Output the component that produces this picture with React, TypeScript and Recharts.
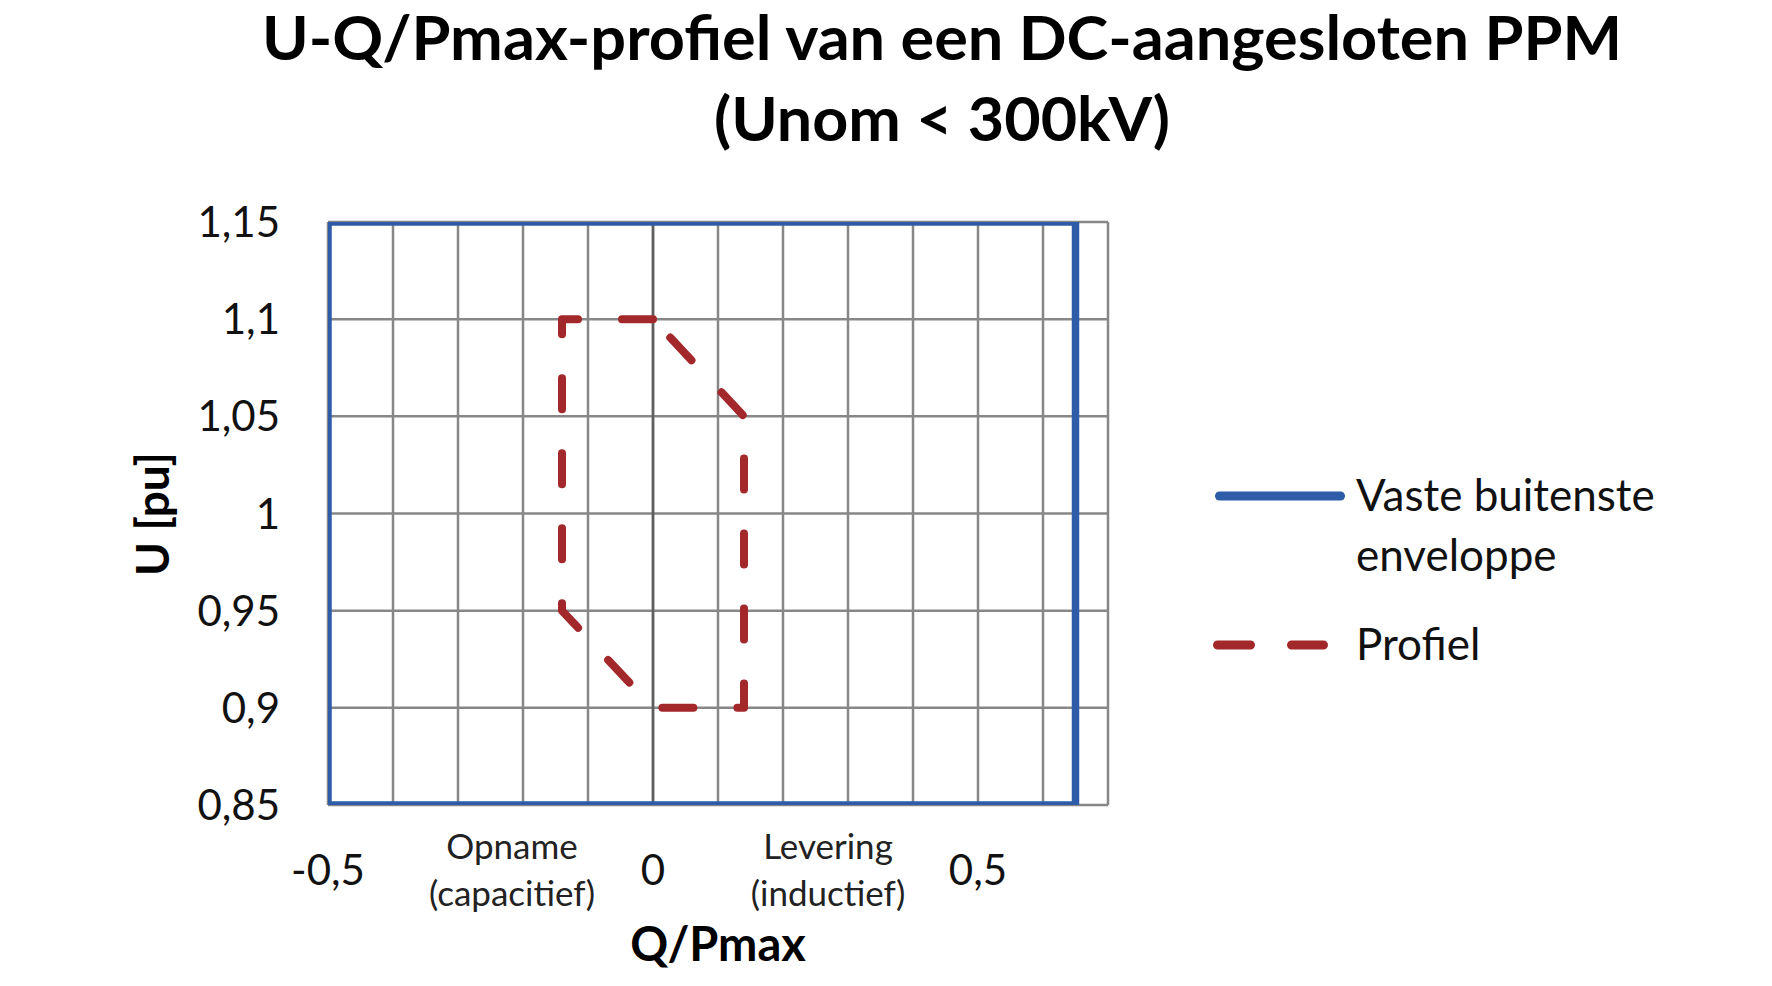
import React from "react";
import { LineChart, Line, XAxis, YAxis, CartesianGrid, ReferenceLine } from "recharts";

const TITLE_LINES = ["U-Q/Pmax-profiel van een DC-aangesloten PPM", "(Unom < 300kV)"];
const X_TICKS = [-0.5, -0.4, -0.3, -0.2, -0.1, 0, 0.1, 0.2, 0.3, 0.4, 0.5, 0.6, 0.7];
const X_TICK_LABELS = ["-0,5", "", "", "", "", "0", "", "", "", "", "0,5", "", ""];
const Y_TICKS = [0.85, 0.9, 0.95, 1.0, 1.05, 1.1, 1.15];
const Y_TICK_LABELS = ["0,85", "0,9", "0,95", "1", "1,05", "1,1", "1,15"];
const X_TITLE = "Q/Pmax";
const Y_TITLE = "U [pu]";
const NOTE_LEFT = ["Opname", "(capacitief)"];
const NOTE_RIGHT = ["Levering", "(inductief)"];

const ENV_NAME = ["Vaste buitenste", "enveloppe"];
const ENV_Q = [-0.5, -0.5, 0.65, 0.65, -0.5];
const ENV_U = [0.85, 1.15, 1.15, 0.85, 0.85];

const PROF_NAME = "Profiel";
const PROF_Q = [0, -0.14, -0.14, 0, 0.14, 0.14, 0];
const PROF_U = [1.1, 1.1, 0.95, 0.9, 0.9, 1.05, 1.1];

const envelope = ENV_Q.map((q, i) => ({ q, u: ENV_U[i] }));
const profile = PROF_Q.map((q, i) => ({ q, u: PROF_U[i] }));

const BLUE = "#2E5CA8";
const RED = "#A3282B";
const GRID = "#878787";
const FONT = "Lato, 'Open Sans', sans-serif";

const W = 1772;
const H = 986;
const PLOT_LEFT = 328;
const PLOT_RIGHT = 1108;
const PLOT_TOP = 222;
const PLOT_BOTTOM = 805;

const findIdx = (arr: number[], v: number) => arr.findIndex((a) => Math.abs(a - v) < 1e-9);

const XTick = (props: any) => {
  const { x, payload } = props;
  const i = findIdx(X_TICKS, payload.value);
  const label = i >= 0 ? X_TICK_LABELS[i] : "";
  if (!label) return null;
  return (
    <text x={x} y={PLOT_BOTTOM + 80} textAnchor="middle" fontFamily={FONT} fontSize={42} fill="#111">
      {label}
    </text>
  );
};

const YTick = (props: any) => {
  const { y, payload } = props;
  const i = findIdx(Y_TICKS, payload.value);
  const label = i >= 0 ? Y_TICK_LABELS[i] : "";
  return (
    <text x={PLOT_LEFT - 48} y={y} dy={15} textAnchor="end" fontFamily={FONT} fontSize={42} fill="#111">
      {label}
    </text>
  );
};

export default function App() {
  return (
    <div style={{ position: "absolute", left: 0, top: 0, width: W, height: H, background: "#fff" }}>
      <LineChart
        width={W}
        height={H}
        margin={{ top: PLOT_TOP, right: W - PLOT_RIGHT, bottom: H - PLOT_BOTTOM - 60, left: PLOT_LEFT - 100 }}
      >
        <CartesianGrid stroke={GRID} strokeWidth={2.5} />
        <XAxis
          type="number"
          dataKey="q"
          domain={[-0.5, 0.7]}
          ticks={X_TICKS}
          interval={0}
          height={60}
          axisLine={false}
          tickLine={false}
          tickSize={0}
          tick={<XTick />}
          allowDataOverflow
        />
        <YAxis
          type="number"
          dataKey="u"
          domain={[0.85, 1.15]}
          ticks={Y_TICKS}
          interval={0}
          width={100}
          axisLine={false}
          tickLine={false}
          tickSize={0}
          tick={<YTick />}
          allowDataOverflow
        />
        <ReferenceLine x={0} stroke="#5e5e5e" strokeWidth={2.5} />
        <Line
          data={envelope}
          dataKey="u"
          type="linear"
          stroke={BLUE}
          strokeWidth={7.5}
          strokeLinejoin="miter"
          dot={false}
          activeDot={false}
          isAnimationActive={false}
        />
        <Line
          data={profile}
          dataKey="u"
          type="linear"
          stroke={RED}
          strokeWidth={8}
          strokeDasharray="31 44"
          strokeLinecap="round"
          strokeLinejoin="round"
          dot={false}
          activeDot={false}
          isAnimationActive={false}
        />
      </LineChart>
      <svg
        width={W}
        height={H}
        style={{ position: "absolute", left: 0, top: 0, pointerEvents: "none" }}
      >
        <text x={942} y={60} textAnchor="middle" fontFamily={FONT} fontWeight={700} fontSize={61} fill="#000" textLength={1360} lengthAdjust="spacingAndGlyphs">
          {TITLE_LINES[0]}
        </text>
        <text x={942} y={141} textAnchor="middle" fontFamily={FONT} fontWeight={700} fontSize={61} fill="#000" textLength={456} lengthAdjust="spacingAndGlyphs">
          {TITLE_LINES[1]}
        </text>
        <text x={(PLOT_LEFT + PLOT_RIGHT) / 2} y={961} textAnchor="middle" fontFamily={FONT} fontWeight={700} fontSize={47} fill="#000">
          {X_TITLE}
        </text>
        <text
          x={0}
          y={0}
          transform={`translate(169, 514) rotate(-90)`}
          textAnchor="middle"
          fontFamily={FONT}
          fontWeight={700}
          fontSize={46}
          fill="#000"
        >
          {Y_TITLE}
        </text>
        {NOTE_LEFT.map((t, i) => (
          <text key={"l" + i} x={512} y={859 + i * 47} textAnchor="middle" fontFamily={FONT} fontSize={35} fill="#222">
            {t}
          </text>
        ))}
        {NOTE_RIGHT.map((t, i) => (
          <text key={"r" + i} x={828} y={859 + i * 47} textAnchor="middle" fontFamily={FONT} fontSize={35} fill="#222">
            {t}
          </text>
        ))}
        <line x1={1219.5} y1={496} x2={1340.5} y2={496} stroke={BLUE} strokeWidth={9} strokeLinecap="round" />
        {ENV_NAME.map((t, i) => (
          <text key={"e" + i} x={1356} y={511 + i * 60} fontFamily={FONT} fontSize={44} fill="#111">
            {t}
          </text>
        ))}
        <line x1={1217.5} y1={645} x2={1323.5} y2={645} stroke={RED} strokeWidth={9} strokeLinecap="round" strokeDasharray="33 41" />
        <text x={1356} y={660} fontFamily={FONT} fontSize={44} fill="#111">
          {PROF_NAME}
        </text>
      </svg>
    </div>
  );
}
